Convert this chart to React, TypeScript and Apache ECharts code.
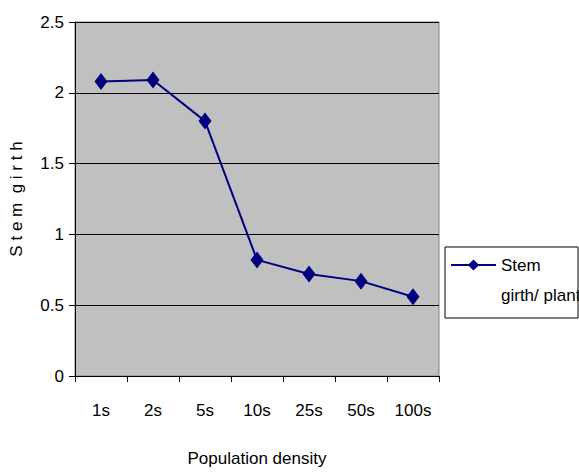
import { useEffect, useRef } from 'react'
import * as echarts from 'echarts'

const densities = ['1s', '2s', '5s', '10s', '25s', '50s', '100s']
const stemGirth = [2.08, 2.09, 1.8, 0.82, 0.72, 0.67, 0.56]
const seriesName = 'Stem girth/ plant'

const FONT = '"Liberation Sans", Arial, sans-serif'

export default function App() {
  const ref = useRef<HTMLDivElement>(null)

  useEffect(() => {
    if (!ref.current) return
    const chart = echarts.init(ref.current, undefined, { renderer: 'svg' })
    chart.setOption({
      animation: false,
      textStyle: { fontFamily: FONT },
      grid: {
        left: 72,
        right: 140,
        top: 22,
        bottom: 95,
        show: true,
        backgroundColor: '#c0c0c0',
        borderColor: '#808080',
        borderWidth: 1,
      },
      // legend frame
      graphic: [
        {
          type: 'rect',
          z: 0,
          shape: { x: 445, y: 247, width: 133, height: 71 },
          style: { fill: '#fff', stroke: '#000', lineWidth: 1 },
        },
      ],
      legend: {
        left: 450,
        top: 220,
        orient: 'vertical',
        data: [seriesName],
        padding: 0,
        itemWidth: 45,
        itemHeight: 14,
        // empty first line keeps the marker beside "Stem"
        formatter: () => '\nStem\ngirth/ plant',
        textStyle: { fontFamily: FONT, fontSize: 17, color: '#000', lineHeight: 30 },
      },
      xAxis: {
        type: 'category',
        data: densities,
        boundaryGap: true,
        name: 'Population density',
        nameLocation: 'middle',
        nameGap: 74,
        nameTextStyle: { fontFamily: FONT, fontSize: 17, color: '#000' },
        axisLine: { lineStyle: { color: '#000', width: 1 } },
        axisTick: { show: true, alignWithLabel: false, length: 6, lineStyle: { color: '#000' } },
        axisLabel: { fontFamily: FONT, fontSize: 17, color: '#000', margin: 26 },
        splitLine: { show: false },
      },
      yAxis: {
        type: 'value',
        min: 0,
        max: 2.5,
        interval: 0.5,
        name: 'S t e m  g i r t h',
        nameLocation: 'middle',
        nameGap: 50,
        nameRotate: 90,
        nameTextStyle: { fontFamily: FONT, fontSize: 17, color: '#000' },
        axisLine: { show: true, lineStyle: { color: '#000', width: 1 } },
        axisTick: { show: true, length: 6, lineStyle: { color: '#000' } },
        axisLabel: { fontFamily: FONT, fontSize: 17, color: '#000', margin: 11 },
        splitLine: { show: true, lineStyle: { color: '#000', width: 1 } },
      },
      series: [
        {
          name: seriesName,
          type: 'line',
          data: stemGirth,
          symbol: 'diamond',
          symbolSize: [13, 17],
          itemStyle: { color: '#000080' },
          lineStyle: { color: '#000080', width: 2 },
        },
      ],
    })
    return () => chart.dispose()
  }, [])

  return (
    <div
      ref={ref}
      style={{ position: 'fixed', left: 0, top: 0, width: 579, height: 472, background: '#fff' }}
    />
  )
}
